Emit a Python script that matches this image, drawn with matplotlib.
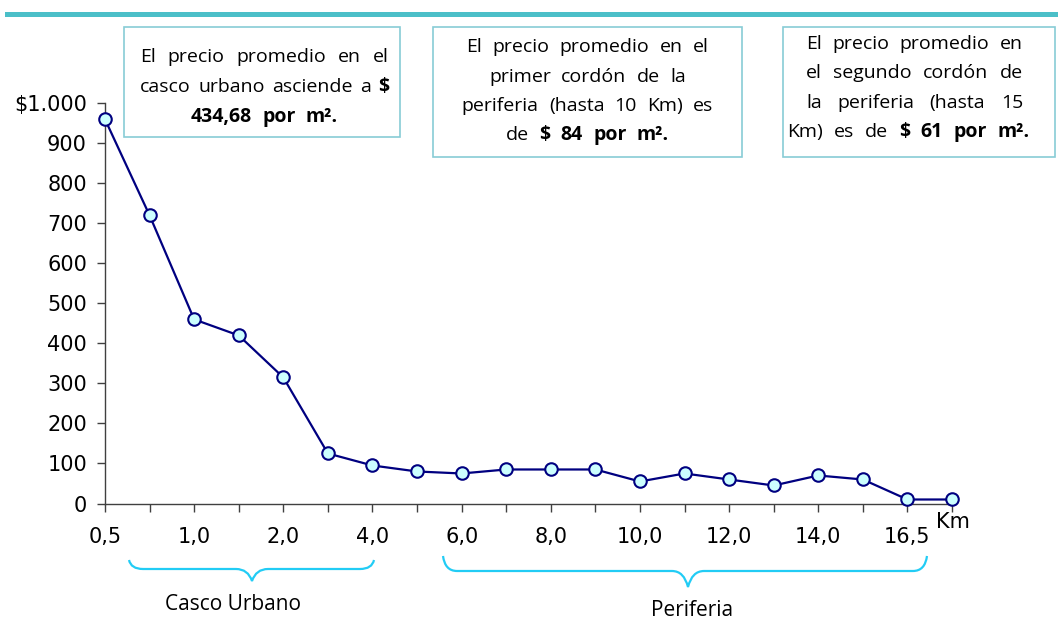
import matplotlib
matplotlib.use("Agg")
import matplotlib.pyplot as plt
from matplotlib.path import Path
from matplotlib.patches import PathPatch, Rectangle

# ---- data ----
distance_labels = ["0,5", "", "1,0", "", "2,0", "", "4,0", "", "6,0", "",
                   "8,0", "", "10,0", "", "12,0", "", "14,0", "", "16,5", ""]
precio = [960, 720, 460, 420, 315, 125, 95, 80, 75, 85,
          85, 85, 55, 75, 60, 45, 70, 60, 10, 10]
y_ticks = [0, 100, 200, 300, 400, 500, 600, 700, 800, 900, 1000]
y_ticklabels = ["0", "100", "200", "300", "400", "500", "600", "700", "800", "900", "$1.000"]
unit_label = "Km"
group_labels = ["Casco Urbano", "Periferia"]

W, H = 1058, 624
FONT = "Open Sans"
TICKFONT = "DejaVu Sans"
BOXSIZE = 14
fig = plt.figure(figsize=(W / 100, H / 100), dpi=100)
fig.patch.set_facecolor("white")

# axes placement (pixels -> figure fraction)
x_left, x_right = 105, 952
y_zero, y_top = 503.5, 103.3
ax = fig.add_axes([x_left / W, 1 - y_zero / H, (x_right - x_left) / W, (y_zero - y_top) / H])
xs = list(range(len(precio)))
ax.plot(xs, precio, color="#000080", lw=1.6, marker="o", markersize=9,
        markerfacecolor="#CCFFFF", markeredgecolor="#000080", markeredgewidth=1.5,
        clip_on=False, zorder=5)
ax.set_xlim(0, len(precio) - 1)
ax.set_ylim(0, 1000)
ax.set_yticks(y_ticks)
ax.set_yticklabels(y_ticklabels, fontsize=15, family=TICKFONT)
ax.set_xticks(xs)
ax.set_xticklabels(distance_labels, fontsize=15, family=TICKFONT)
for s in ["top", "right"]:
    ax.spines[s].set_visible(False)
for s in ["left", "bottom"]:
    ax.spines[s].set_color("#404040")
    ax.spines[s].set_linewidth(1.0)
ax.tick_params(axis="both", direction="out", length=6, width=1, color="#404040", labelcolor="black")
ax.tick_params(axis="x", pad=11)
ax.tick_params(axis="y", pad=7)
ax.annotate(unit_label, xy=(len(precio) - 1, 0), xycoords=("data", "axes fraction"),
            xytext=(1, -13), textcoords="offset points", ha="center", va="center",
            fontsize=15, family=TICKFONT)

# top teal bar
fig.patches.append(Rectangle((5 / W, 1 - 16.5 / H), 1, 5 / H, transform=fig.transFigure,
                             facecolor="#4BBFC8", edgecolor="none"))

# braces
def brace(x0, x1, xm, y_end, y_line, y_tip, r=14, rm=16):
    def P(x, y):
        return (x / W, 1 - y / H)
    verts = [P(x0, y_end),
             P(x0 + 2, y_line), P(x0 + r, y_line),
             P(xm - rm, y_line),
             P(xm - 4, y_line), P(xm, y_tip),
             P(xm + 4, y_line), P(xm + rm, y_line),
             P(x1 - r, y_line),
             P(x1 - 2, y_line), P(x1, y_end)]
    codes = [Path.MOVETO, Path.CURVE3, Path.CURVE3, Path.LINETO,
             Path.CURVE3, Path.CURVE3, Path.CURVE3, Path.CURVE3,
             Path.LINETO, Path.CURVE3, Path.CURVE3]
    fig.patches.append(PathPatch(Path(verts, codes), transform=fig.transFigure,
                                 facecolor="none", edgecolor="#22CCF5", lw=1.6))

brace(129, 374, 252, 560, 569, 581)
brace(443, 927, 688, 556, 571, 587)
fig.text(233 / W, 1 - 604 / H, group_labels[0], ha="center", va="center", fontsize=15,
         family=FONT)
fig.text(692 / W, 1 - 610 / H, group_labels[1], ha="center", va="center", fontsize=15,
         family=FONT)

# text boxes
def box(x0, y0, x1, y1):
    fig.patches.append(Rectangle((x0 / W, 1 - y1 / H), (x1 - x0) / W, (y1 - y0) / H,
                                 transform=fig.transFigure, facecolor="white",
                                 edgecolor="#88CCD6", lw=1.2, zorder=3))

fig.canvas.draw()
renderer = fig.canvas.get_renderer()

def word_width(word, bold):
    t = fig.text(0, 0, word, fontsize=BOXSIZE, family=FONT, weight="bold" if bold else "normal")
    w = t.get_window_extent(renderer).width
    t.remove()
    return w

def draw_line(words, x0, x1, y, justify):
    widths = [word_width(w, b) for w, b in words]
    space = word_width("a a", False) - 2 * word_width("a", False)
    if justify and len(words) > 1:
        gap = (x1 - x0 - sum(widths)) / (len(words) - 1)
        x = x0
    else:
        gap = space * 2.0
        total = sum(widths) + gap * (len(words) - 1)
        x = (x0 + x1) / 2 - total / 2
    for (w, b), wd in zip(words, widths):
        fig.text(x / W, 1 - y / H, w, fontsize=BOXSIZE, family=FONT,
                 weight="bold" if b else "normal", ha="left", va="center", zorder=4)
        x += wd + gap

def parse(line):
    out = []
    bold = False
    for tok in line.split(" "):
        b = bold
        if tok.startswith("**"):
            tok = tok[2:]
            b = True
            bold = True
        if tok.endswith("**"):
            tok = tok[:-2]
            bold = False
        out.append((tok, b))
    return out

box(124, 27, 400, 137)
box1 = ["El precio promedio en el", "casco urbano asciende a **$**", "**434,68 por m².**"]
for i, (ln, yy) in enumerate(zip(box1, [57, 87, 117])):
    draw_line(parse(ln), 140, 389, yy, justify=(i < len(box1) - 1))

box(433, 27, 742, 157)
box2 = ["El precio promedio en el", "primer cordón de la", "periferia (hasta 10 Km) es",
        "de **$ 84 por m².**"]
for ln, yy in zip(box2, [47, 77, 106, 135]):
    draw_line(parse(ln), 450, 725, yy, justify=False)

box(783, 27, 1055, 157)
box3 = ["El precio promedio en", "el segundo cordón de", "la periferia (hasta 15",
        "Km) es de **$ 61 por m².**"]
for i, (ln, yy) in enumerate(zip(box3, [44, 73, 103, 132])):
    if i < 3:
        draw_line(parse(ln), 806, 1023, yy, justify=True)
    else:
        draw_line(parse(ln), 787, 1030, yy, justify=True)

fig.savefig("out.png", dpi=100, facecolor="white")
